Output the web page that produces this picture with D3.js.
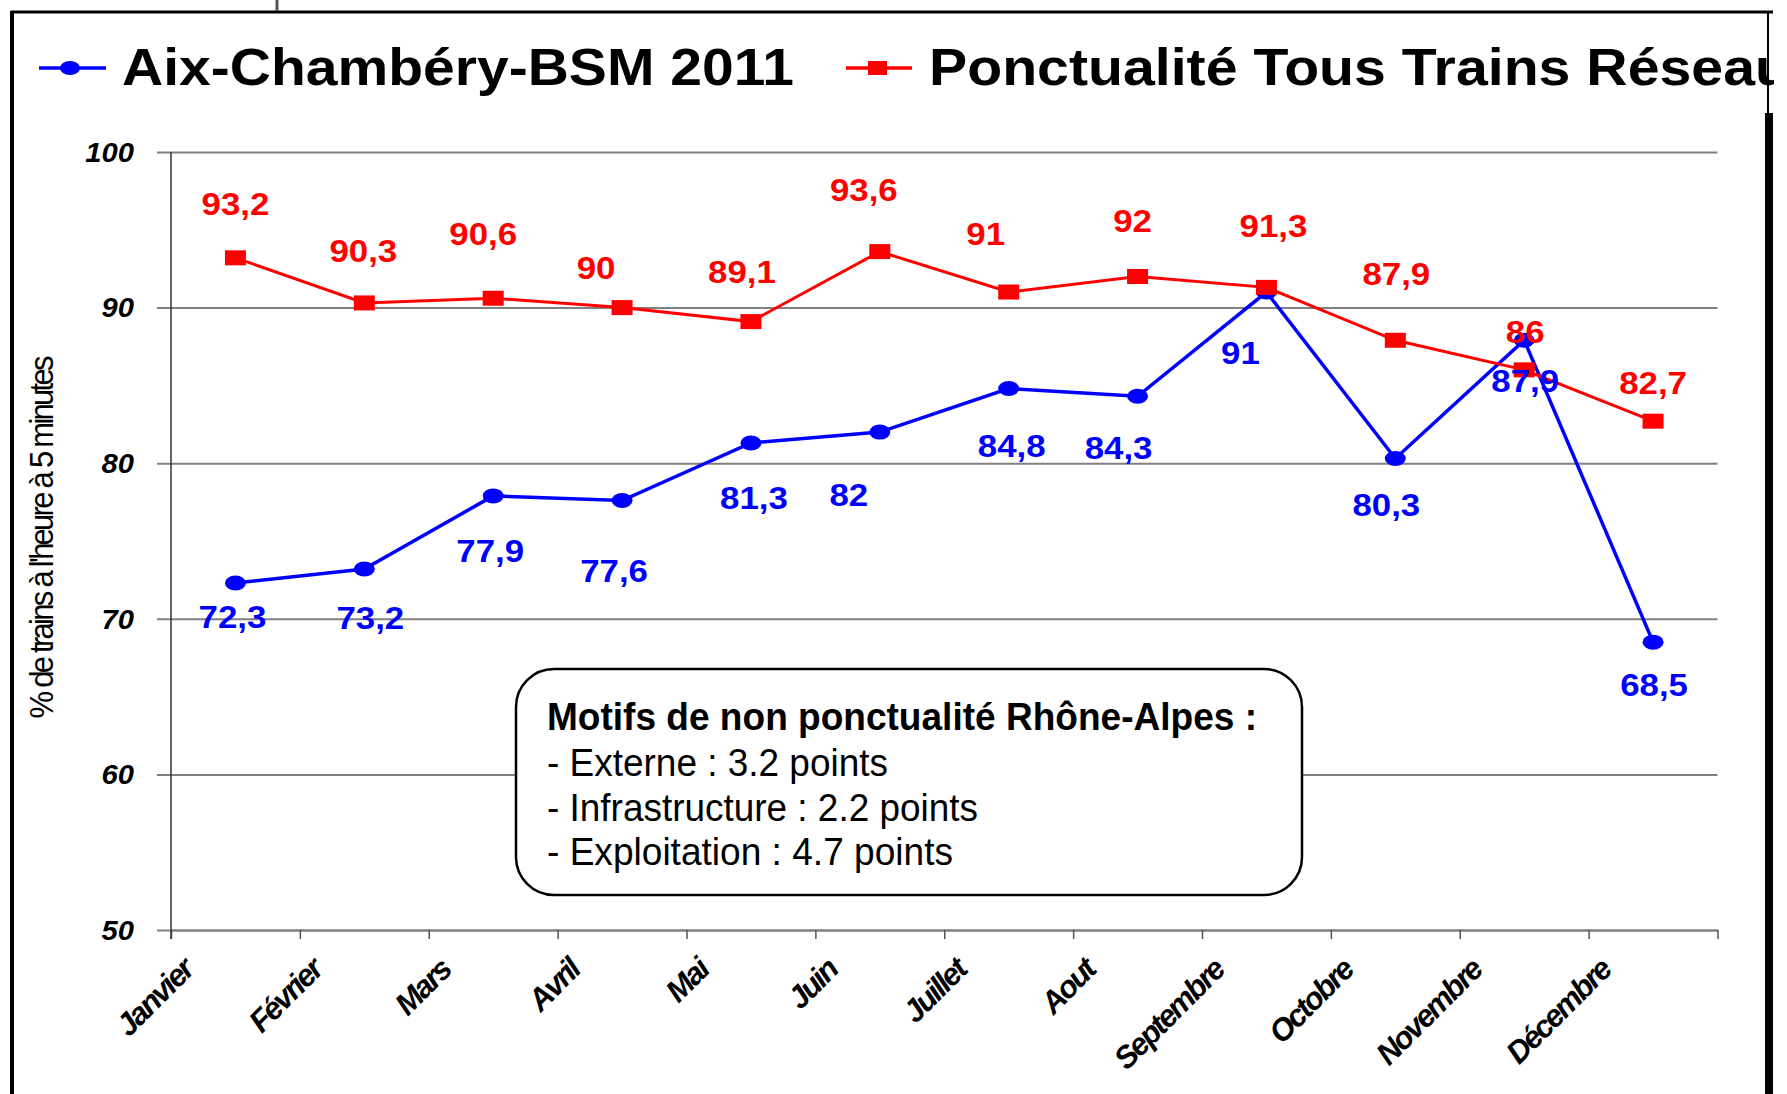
<!DOCTYPE html>
<html>
<head>
<meta charset="utf-8">
<script src="https://cdn.jsdelivr.net/npm/d3@7"></script>
<style>
	html, body { margin: 0; padding: 0; background: #fff; }
	svg { display: block; font-family: "Liberation Sans", Arial, sans-serif; }
</style>
</head>
<body>
<svg id="chart" width="1787" height="1094"></svg>
<script>
// --- Data ---
var MONTHS  = ['Janvier', 'Février', 'Mars', 'Avril', 'Mai', 'Juin', 'Juillet', 'Aout', 'Septembre', 'Octobre', 'Novembre', 'Décembre'];
var AIX     = [72.3, 73.2, 77.9, 77.6, 81.3, 82, 84.8, 84.3, 91, 80.3, 87.9, 68.5];
var RESEAU  = [93.2, 90.3, 90.6, 90, 89.1, 93.6, 91, 92, 91.3, 87.9, 86, 82.7];
var Y_TICKS = [50, 60, 70, 80, 90, 100];
var SERIES_NAMES = ['Aix-Chambéry-BSM 2011', 'Ponctualité Tous Trains Réseau'];
var Y_TITLE    = "% de trains à l'heure à 5 minutes";
var NOTE_TITLE = 'Motifs de non ponctualité Rhône-Alpes :';
var NOTE_LINES = ['- Externe : 3.2 points', '- Infrastructure : 2.2 points', '- Exploitation : 4.7 points'];

// Hand-placed label nudges from the original (px from the point, label centre)
var AIX_NUDGE    = [[-3, 33], [6, 48], [-3, 55], [-8, 70], [3, 54], [-31, 62], [3, 57], [-19, 51], [-26, 60], [-9, 46], [1, 40], [1, 42]];
var RESEAU_NUDGE = [[0, -54], [-1, -52], [-10, -65], [-26, -40], [-9, -50], [-16, -62], [-23, -59], [-5, -56], [7, -62], [1, -67], [1, -38], [0, -39]];

// --- Layout ---
var PLOT_LEFT   = 171;
var PLOT_RIGHT  = 1717.5;
var PLOT_TOP    = 152;
var PLOT_BOTTOM = 930;
var GRID_LEFT   = 157;
var BLUE = '#0000ff';
var RED  = '#ff0000';

var svg = d3.select('#chart');

var x = d3.scaleBand().domain(MONTHS).range([PLOT_LEFT, PLOT_RIGHT]).padding(0);
var xEdge = d3.scaleLinear().domain([0, MONTHS.length]).range([PLOT_LEFT, PLOT_RIGHT]);
var y = d3.scaleLinear().domain([50, 100]).range([PLOT_BOTTOM, PLOT_TOP]);

function cx(d, i) { return x(MONTHS[i]) + x.bandwidth() / 2; }
function fmt(v) { return String(v).replace('.', ','); }

// gridlines
svg.append('g')
	.attr('transform', 'translate(' + PLOT_RIGHT + ',0)')
	.call(d3.axisLeft(y).tickValues(Y_TICKS).tickSize(PLOT_RIGHT - GRID_LEFT).tickFormat(''))
	.call(function (g) {
		g.select('.domain').remove();
		g.selectAll('.tick line').attr('stroke', '#808080').attr('stroke-width', 2);
	});

// y tick labels
svg.append('g').selectAll('text')
	.data(Y_TICKS)
	.enter().append('text')
	.attr('transform', function (d) { return 'translate(134,' + y(d) + ') scale(1.08,1)'; })
	.attr('text-anchor', 'end')
	.attr('dy', '0.36em')
	.style('font-size', '27px')
	.style('font-weight', 'bold')
	.style('font-style', 'italic')
	.text(function (d) { return d; });

// x axis
svg.append('g')
	.attr('transform', 'translate(0,' + PLOT_BOTTOM + ')')
	.call(d3.axisBottom(xEdge).tickValues(d3.range(MONTHS.length + 1)).tickSize(9).tickSizeOuter(0).tickFormat(''))
	.call(function (g) {
		g.select('.domain').attr('stroke', '#808080').attr('stroke-width', 2);
		g.selectAll('.tick line').attr('stroke', '#555').attr('stroke-width', 1.5);
	});

// y axis line
svg.append('line')
	.attr('x1', PLOT_LEFT).attr('x2', PLOT_LEFT)
	.attr('y1', PLOT_TOP).attr('y2', PLOT_BOTTOM + 9)
	.attr('stroke', '#333').attr('stroke-width', 1.5);

// month labels
svg.append('g').selectAll('text')
	.data(MONTHS)
	.enter().append('text')
	.attr('transform', function (d) { return 'translate(' + (x(d) + 24) + ',' + (PLOT_BOTTOM + 42) + ') rotate(-45)'; })
	.attr('text-anchor', 'end')
	.style('font-size', '31px')
	.style('font-weight', 'bold')
	.style('font-style', 'italic')
	.style('letter-spacing', '-2.2px')
	.text(function (d) { return d; });

// y axis title
svg.append('text')
	.attr('transform', 'translate(53,537) scale(1.08,1) rotate(-90)')
	.attr('text-anchor', 'middle')
	.attr('textLength', 363)
	.attr('lengthAdjust', 'spacing')
	.style('font-size', '31px')
	.text(Y_TITLE);

// series
var line = d3.line().x(cx).y(function (d) { return y(d); });

svg.append('path').datum(AIX)
	.attr('d', line).attr('fill', 'none')
	.attr('stroke', BLUE).attr('stroke-width', 3.5);
svg.append('g').selectAll('ellipse')
	.data(AIX).enter().append('ellipse')
	.attr('cx', cx).attr('cy', function (d) { return y(d); })
	.attr('rx', 10.5).attr('ry', 7.5).attr('fill', BLUE);

svg.append('path').datum(RESEAU)
	.attr('d', line).attr('fill', 'none')
	.attr('stroke', RED).attr('stroke-width', 3);
svg.append('g').selectAll('rect')
	.data(RESEAU).enter().append('rect')
	.attr('x', function (d, i) { return cx(d, i) - 10.5; })
	.attr('y', function (d) { return y(d) - 7.5; })
	.attr('width', 21).attr('height', 15).attr('fill', RED);

// data labels
function addLabels(values, nudge, color) {
	svg.append('g').selectAll('text')
		.data(values).enter().append('text')
		.attr('transform', function (d, i) {
			return 'translate(' + (cx(d, i) + nudge[i][0]) + ',' + (y(d) + nudge[i][1]) + ') scale(1.09,1)';
		})
		.attr('text-anchor', 'middle')
		.attr('dy', '0.36em')
		.style('font-size', '32px')
		.style('font-weight', 'bold')
		.attr('fill', color)
		.text(fmt);
}
addLabels(RESEAU, RESEAU_NUDGE, RED);
addLabels(AIX, AIX_NUDGE, BLUE);

// note box
var note = svg.append('g');
note.append('rect')
	.attr('x', 516).attr('y', 669).attr('width', 786).attr('height', 226).attr('rx', 38)
	.attr('fill', '#fff').attr('stroke', '#000').attr('stroke-width', 2.5);
note.append('text')
	.attr('x', 547).attr('y', 730)
	.attr('textLength', 710).attr('lengthAdjust', 'spacingAndGlyphs')
	.style('font-size', '38px').style('font-weight', 'bold')
	.text(NOTE_TITLE);
var NOTE_WIDTHS = [341, 431, 406];
note.selectAll('text.line')
	.data(NOTE_LINES).enter().append('text')
	.attr('class', 'line')
	.attr('x', 547)
	.attr('y', function (d, i) { return 776 + i * 44.5; })
	.attr('textLength', function (d, i) { return NOTE_WIDTHS[i]; })
	.attr('lengthAdjust', 'spacingAndGlyphs')
	.style('font-size', '38px')
	.text(function (d) { return d; });

// legend
svg.append('defs').append('clipPath').attr('id', 'legclip')
	.append('rect').attr('x', 0).attr('y', 0).attr('width', 1774).attr('height', 200);
var leg = svg.append('g').attr('clip-path', 'url(#legclip)');
leg.append('line').attr('x1', 39).attr('x2', 106).attr('y1', 68).attr('y2', 68)
	.attr('stroke', BLUE).attr('stroke-width', 3.5);
leg.append('ellipse').attr('cx', 70).attr('cy', 68).attr('rx', 10).attr('ry', 7).attr('fill', BLUE);
leg.append('line').attr('x1', 846).attr('x2', 912).attr('y1', 68).attr('y2', 68)
	.attr('stroke', RED).attr('stroke-width', 3.5);
leg.append('rect').attr('x', 868).attr('y', 61).attr('width', 19).attr('height', 14).attr('fill', RED);
leg.append('text')
	.attr('x', 122).attr('y', 85)
	.attr('textLength', 672).attr('lengthAdjust', 'spacingAndGlyphs')
	.style('font-size', '52px').style('font-weight', 'bold')
	.text(SERIES_NAMES[0]);
leg.append('text')
	.attr('x', 929).attr('y', 85)
	.attr('textLength', 861).attr('lengthAdjust', 'spacingAndGlyphs')
	.style('font-size', '52px').style('font-weight', 'bold')
	.text(SERIES_NAMES[1]);

// slide frame
var frame = svg.append('g').attr('stroke', '#000').attr('fill', 'none');
frame.append('line').attr('x1', 11).attr('x2', 1773).attr('y1', 12).attr('y2', 12).attr('stroke-width', 3);
frame.append('line').attr('x1', 12).attr('x2', 12).attr('y1', 11).attr('y2', 1094).attr('stroke-width', 4);
frame.append('line').attr('x1', 277).attr('x2', 277).attr('y1', 0).attr('y2', 11).attr('stroke', '#555').attr('stroke-width', 3);
frame.append('line').attr('x1', 1768).attr('x2', 1768).attr('y1', 12).attr('y2', 113).attr('stroke-width', 2);
frame.append('line').attr('x1', 1769).attr('x2', 1769).attr('y1', 113).attr('y2', 1094).attr('stroke-width', 8);
</script>
</body>
</html>
